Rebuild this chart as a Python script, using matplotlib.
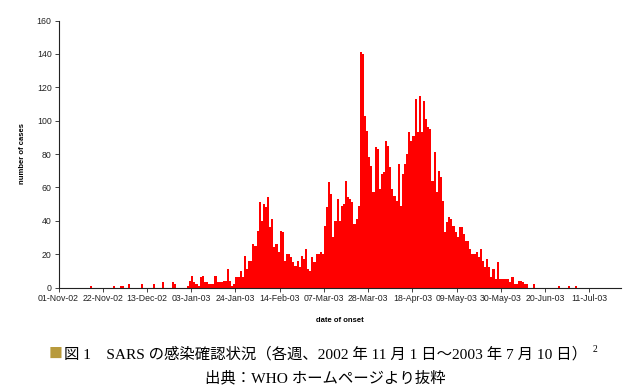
import matplotlib

matplotlib.use("Agg")
import matplotlib.dates as mdates
import matplotlib.pyplot as plt
import numpy as np
import pandas as pd

# daily SARS cases by date of onset, one list per month
nov = [0, 0, 0, 0, 0, 0, 0, 0, 0, 0, 0, 0, 0, 0, 0, 1, 0, 0, 0, 0,
       0, 0, 0, 0, 0, 0, 1, 0, 0, 1]
dec = [1, 0, 0, 2, 0, 0, 0, 0, 0, 2, 0, 0, 0, 0, 0, 2, 0, 0, 0, 3,
       0, 0, 0, 0, 3, 2, 0, 0, 0, 0, 0]
jan = [1, 4, 7, 3, 2, 1, 6, 7, 3, 3, 2, 2, 2, 7, 3, 3, 3, 4, 4, 11,
       4, 1, 2, 6, 6, 10, 6, 19, 11, 16, 16]
feb = [26, 25, 34, 51, 40, 50, 48, 54, 36, 41, 24, 26, 21, 34, 33, 16, 20, 20, 18, 15,
       13, 16, 12, 19, 17, 23, 11, 10]
mar = [18, 15, 20, 20, 21, 20, 37, 48, 63, 56, 30, 40, 53, 40, 49, 50, 64, 54, 53, 51,
       38, 41, 49, 141, 140, 103, 94, 78, 73, 57, 84]
apr = [83, 59, 68, 69, 88, 85, 72, 59, 55, 52, 74, 49, 68, 74, 80, 93, 88, 91, 113, 93,
       115, 93, 112, 101, 96, 95, 64, 81, 57, 70]
may = [66, 52, 33, 39, 42, 41, 37, 33, 30, 36, 36, 32, 28, 28, 23, 20, 20, 21, 18, 23,
       16, 12, 17, 12, 6, 11, 5, 15, 5, 5, 5]
jun = [5, 5, 3, 6, 2, 2, 4, 4, 3, 2, 2, 0, 0, 2, 0, 0, 0, 0, 0, 0,
       0, 0, 0, 0, 0, 1, 0, 0, 0, 0]
jul = [1, 0, 0, 1, 0, 0, 0, 0, 0, 0]

START = "2002-11-01"
LAST_TICK = "2003-07-11"
X_END = "2003-07-26"
Y_TICKS = [0, 20, 40, 60, 80, 100, 120, 140, 160]

CAPTION = "図 1　SARS の感染確認状況（各週、2002 年 11 月 1 日～2003 年 7 月 10 日）"
SOURCE = "出典：WHO ホームページより抜粋"
JP = ["Liberation Serif", "Noto Sans CJK JP"]

W, H = 630, 390


def fx(px):
    return px / W


def fy(py):
    return 1 - py / H


cases = np.array(nov + dec + jan + feb + mar + apr + may + jun + jul)
days = pd.date_range(START, periods=len(cases), freq="D")
ticks = pd.date_range(START, LAST_TICK, freq="21D")

plt.rcParams["font.family"] = ["Liberation Sans", "DejaVu Sans"]
fig = plt.figure(figsize=(W / 100, H / 100), dpi=100)
ax = fig.add_axes([fx(58.5), fy(287.5), fx(621) - fx(58.5), fy(20.5) - fy(287.5)])

ax.bar(days, cases, width=1.0, align="edge", color="#ff0000", linewidth=0)

ax.set_xlim(pd.Timestamp(START), pd.Timestamp(X_END))
ax.set_ylim(0, 160)
ax.set_yticks(Y_TICKS)
ax.set_xticks(ticks)
ax.xaxis.set_major_formatter(mdates.DateFormatter("%d-%b-%y"))

for side in ("top", "right"):
    ax.spines[side].set_visible(False)
for side in ("left", "bottom"):
    ax.spines[side].set_color("#222222")
    ax.spines[side].set_linewidth(0.8)
ax.tick_params(direction="out", length=3, width=0.6, colors="#222222", labelsize=6.3, pad=2)

fig.text(fx(22), fy(154), "number of cases", rotation=90, ha="center", va="center",
         fontsize=5.5, fontweight="bold")
fig.text(fx(340), fy(320), "date of onset", ha="center", va="center", fontsize=5.5, fontweight="bold")

fig.text(fx(56), fy(354), "■", color="#b89a3c", fontsize=10, family=["Noto Sans CJK JP"],
         ha="center", va="center")
fig.text(fx(64), fy(354), CAPTION, fontsize=11.1, family=JP, va="center")
fig.text(fx(593), fy(349), "2", fontsize=7, family=JP, va="center")
fig.text(fx(325), fy(378), SOURCE, fontsize=11.1, family=JP, ha="center", va="center")

fig.savefig("out.png", dpi=100)
